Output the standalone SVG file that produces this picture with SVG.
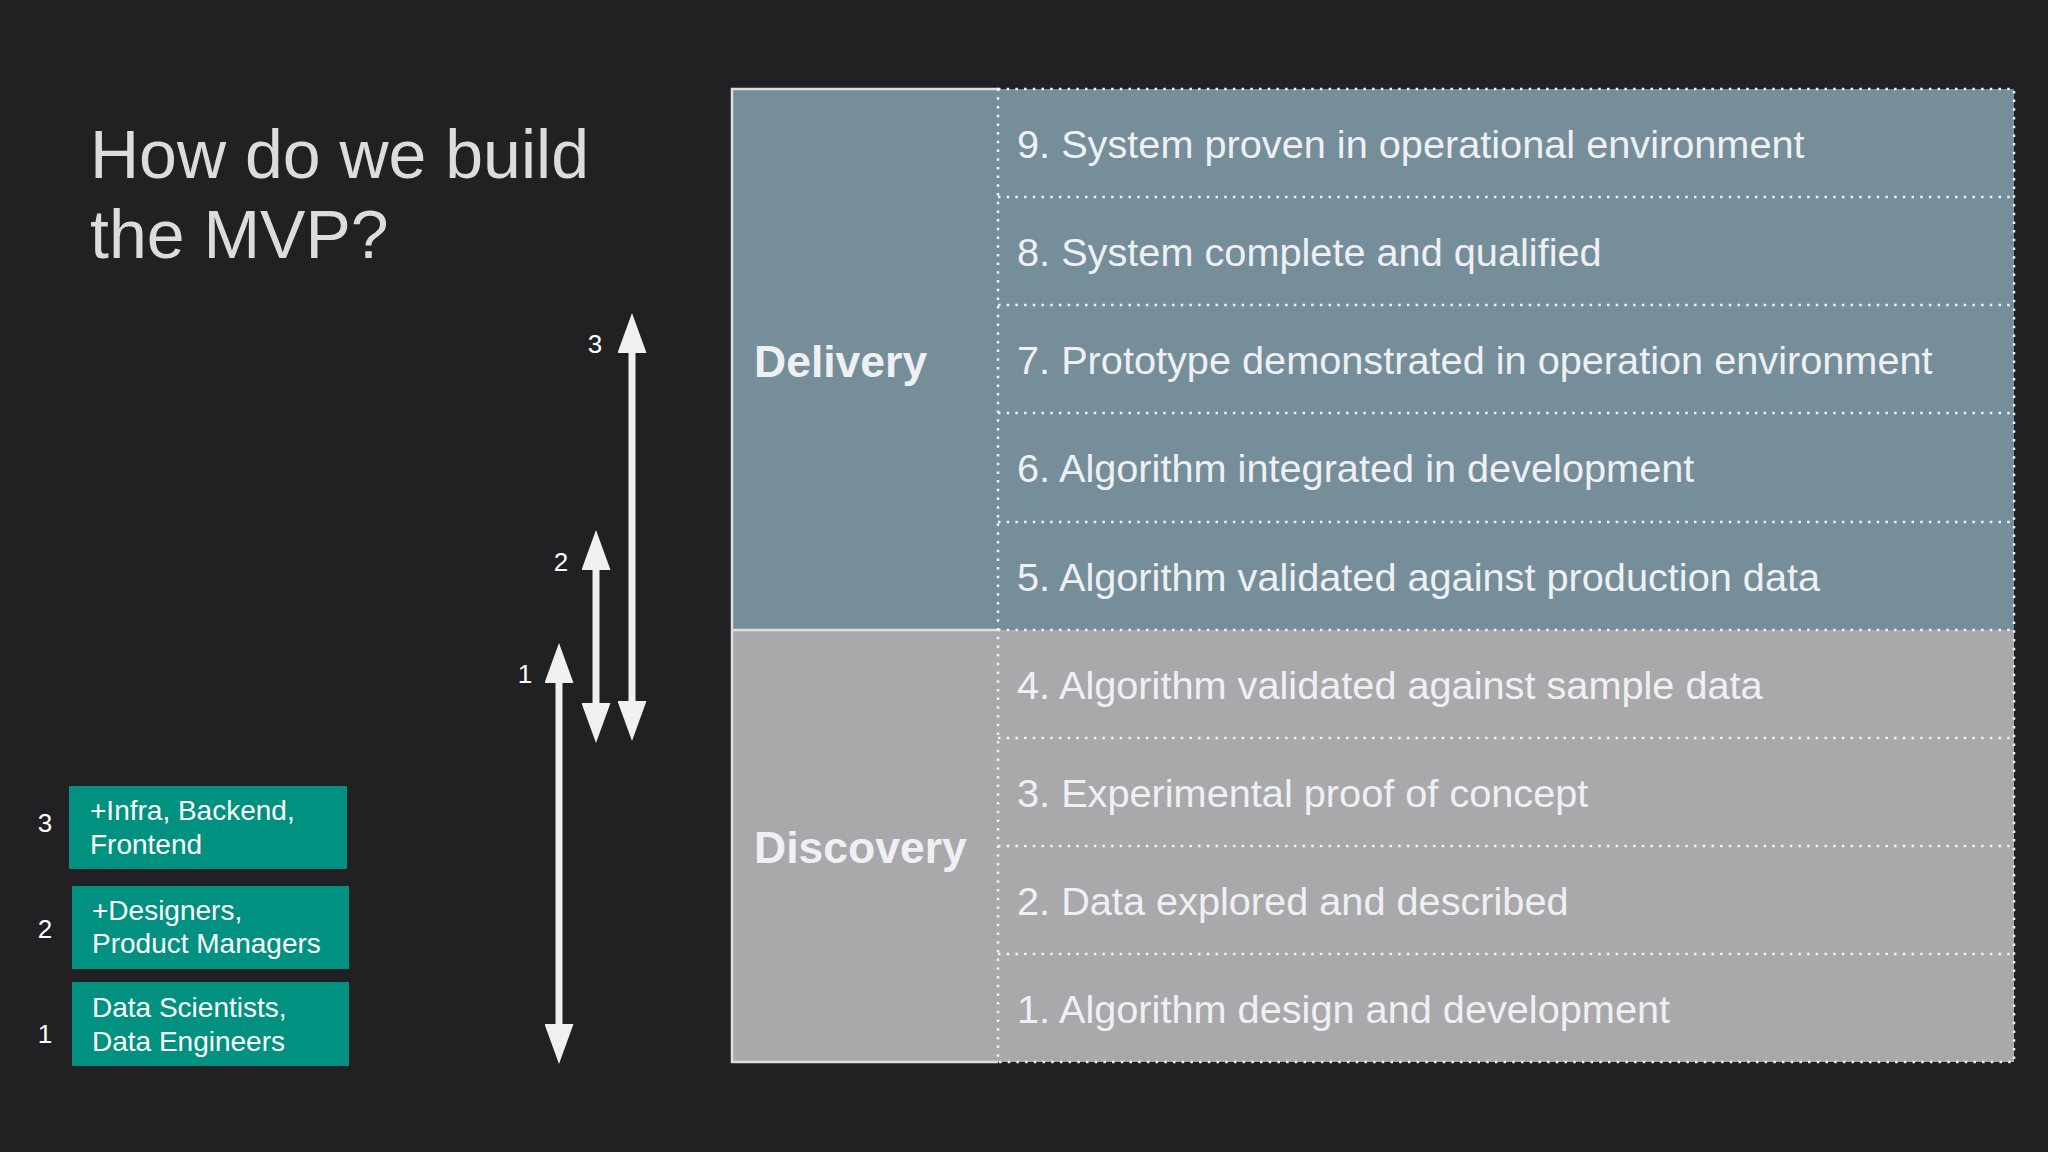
<svg xmlns="http://www.w3.org/2000/svg" width="2048" height="1152" viewBox="0 0 2048 1152">
<defs>
<style>
.bg{fill:#212123}
.title{font-family:"Liberation Sans",Arial,sans-serif;font-size:68px;fill:#dcdcdc}
.del{fill:#758e9a}
.dis{fill:#a9a9ab}
.solid{stroke:#dedede;stroke-width:2.5;fill:none}
.dot{stroke:#f2f2f2;stroke-width:2.5;stroke-dasharray:2.5 6.2;fill:none}
.phase{font-family:"Liberation Sans",Arial,sans-serif;font-size:44.5px;font-weight:bold;fill:#eef0f4}
.row{font-family:"Liberation Sans",Arial,sans-serif;font-size:39.7px;fill:#eef0f4}
.team{fill:#009180}
.tt{font-family:"Liberation Sans",Arial,sans-serif;font-size:28px;fill:#ffffff}
.num{font-family:"Liberation Sans",Arial,sans-serif;font-size:26px;fill:#ffffff;text-anchor:middle}
.arr{stroke:#f0f0f0;stroke-width:7;fill:none}
</style>
<marker id="head" viewBox="0 0 40 29" refX="0" refY="14.5" markerWidth="40" markerHeight="29" markerUnits="userSpaceOnUse" orient="auto-start-reverse">
<path d="M0,0 L40,14.5 L0,29 Z" fill="#f0f0f0"/>
</marker>
</defs>
<rect class="bg" x="0" y="0" width="2048" height="1152"/>
<text class="title" x="90" y="178">How do we build</text>
<text class="title" x="90" y="258">the MVP?</text>

<g id="table">
<rect class="del" x="732" y="89" width="1282" height="541"/>
<rect class="dis" x="732" y="630" width="1282" height="432"/>
<path class="solid" d="M998,89 H732 V1062 H998 M732,630 H998"/>
<path class="dot" d="M998,89 H2014 V1062 H998 Z M998,197 H2014 M998,305 H2014 M998,413 H2014 M998,522 H2014 M998,630 H2014 M998,738 H2014 M998,846 H2014 M998,954 H2014"/>
</g>
<g id="phase-delivery"><text class="phase" x="754" y="377">Delivery</text></g>
<g id="phase-discovery"><text class="phase" x="754" y="863">Discovery</text></g>
<g id="level-9"><text class="row" x="1017" y="158">9. System proven in operational environment</text></g>
<g id="level-8"><text class="row" x="1017" y="266">8. System complete and qualified</text></g>
<g id="level-7"><text class="row" x="1017" y="374">7. Prototype demonstrated in operation environment</text></g>
<g id="level-6"><text class="row" x="1017" y="482">6. Algorithm integrated in development</text></g>
<g id="level-5"><text class="row" x="1017" y="591">5. Algorithm validated against production data</text></g>
<g id="level-4"><text class="row" x="1017" y="699">4. Algorithm validated against sample data</text></g>
<g id="level-3"><text class="row" x="1017" y="807">3. Experimental proof of concept</text></g>
<g id="level-2"><text class="row" x="1017" y="915">2. Data explored and described</text></g>
<g id="level-1"><text class="row" x="1017" y="1023">1. Algorithm design and development</text></g>

<g id="team-3">
<rect class="team" x="69" y="786" width="278" height="83"/>
<text class="tt" x="90" y="820">+Infra, Backend,</text>
<text class="tt" x="90" y="854">Frontend</text>
<text class="num" x="45" y="832">3</text>
</g>
<g id="team-2">
<rect class="team" x="72" y="886" width="277" height="83"/>
<text class="tt" x="92" y="920">+Designers,</text>
<text class="tt" x="92" y="953">Product Managers</text>
<text class="num" x="45" y="938">2</text>
</g>
<g id="team-1">
<rect class="team" x="72" y="982" width="277" height="84"/>
<text class="tt" x="92" y="1017">Data Scientists,</text>
<text class="tt" x="92" y="1051">Data Engineers</text>
<text class="num" x="45" y="1043">1</text>
</g>

<g id="connectors">
<line class="arr" x1="632" y1="353" x2="632" y2="701" marker-start="url(#head)" marker-end="url(#head)"/>
<line class="arr" x1="596" y1="570" x2="596" y2="703" marker-start="url(#head)" marker-end="url(#head)"/>
<line class="arr" x1="559" y1="683" x2="559" y2="1024" marker-start="url(#head)" marker-end="url(#head)"/>
<text class="num" x="595" y="353">3</text>
<text class="num" x="561" y="571">2</text>
<text class="num" x="525" y="683">1</text>
</g>
</svg>
